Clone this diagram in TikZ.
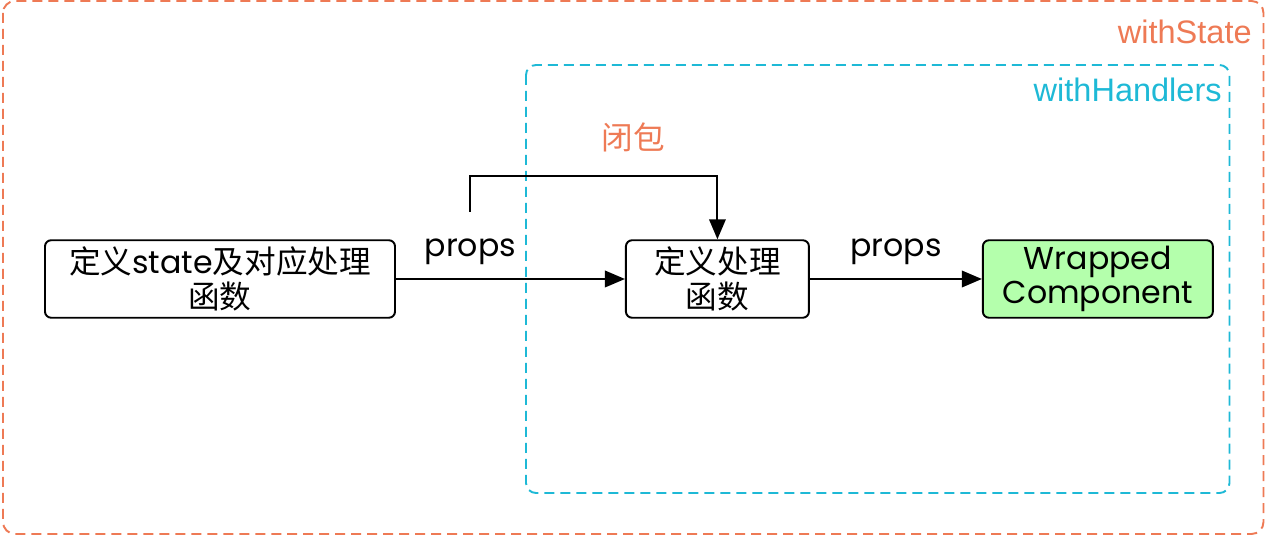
\documentclass[tikz,border=0pt]{standalone}
\usepackage{fontspec}
\setmainfont{Poppins}
\newfontfamily\zhfont{Noto Sans CJK SC}
\newfontfamily\tagfont{Liberation Sans}
\usetikzlibrary{positioning,arrows.meta,calc}
\definecolor{stateorange}{HTML}{EE7A55}
\definecolor{handlercyan}{HTML}{1EB9D6}
\definecolor{wrapgreen}{HTML}{B4FFAC}
\newcommand{\zh}[1]{{\zhfont #1}}

\begin{document}
\begin{tikzpicture}[
  fn/.style={draw, rounded corners=3.5pt, line width=1.1pt, font=\fontsize{18}{19.5}\selectfont, inner sep=2pt, minimum height=1.55cm, align=center},
  arr/.style={-{Triangle[length=4mm, width=3.3mm]}, line width=1.1pt},
  hoc/.style={line width=1.1pt, dash pattern=on 0.2cm off 0.12cm},
  tag/.style={font=\tagfont\fontsize{18.5}{20}\selectfont, inner sep=0pt}
]
\useasboundingbox (0,0) rectangle (25.36,-10.72);
% the two wrappers
\draw[hoc, stateorange, rounded corners=0.24cm] (0.06,-0.02) rectangle (25.27,-10.68);
\draw[hoc, handlercyan, rounded corners=0.2cm] (10.52,-1.3) rectangle (24.59,-9.86);
\node[tag, text=stateorange, anchor=east] (ws) at (25.04,-0.64) {withState};
\node[tag, text=handlercyan, anchor=east] (wh) at (24.44,-1.8) {withHandlers};

\node[fn, minimum width=7cm] (b1) at (4.4,-5.58) {\zh{定义}state\zh{及对应处理}\\ \zh{函数}};
\node[fn, minimum width=3.66cm, right=4.58cm of b1] (b2) {\zh{定义处理}\\ \zh{函数}};
\node[fn, fill=wrapgreen, minimum width=4.6cm, right=3.44cm of b2] (b3) {Wrapped\\ Component};

\draw[arr] (b1) -- node[pos=0.325, above=2.7mm, inner sep=0pt, font=\fontsize{18}{19.5}\selectfont] (p1) {props} (b2);
\draw[arr] (b2) -- node[pos=0.5, above=2.7mm, inner sep=0pt, font=\fontsize{18}{19.5}\selectfont] (p2) {props} (b3);

% closure
\coordinate (cl) at ($(p1.north)+(0,0.52)$);
\draw[arr] (cl) -- ++(0,0.72) -| (b2.north);
\node[tag, text=stateorange, font=\zhfont\fontsize{18}{20}\selectfont] (bb) at (12.66,-2.74) {闭包};
\end{tikzpicture}
\end{document}
